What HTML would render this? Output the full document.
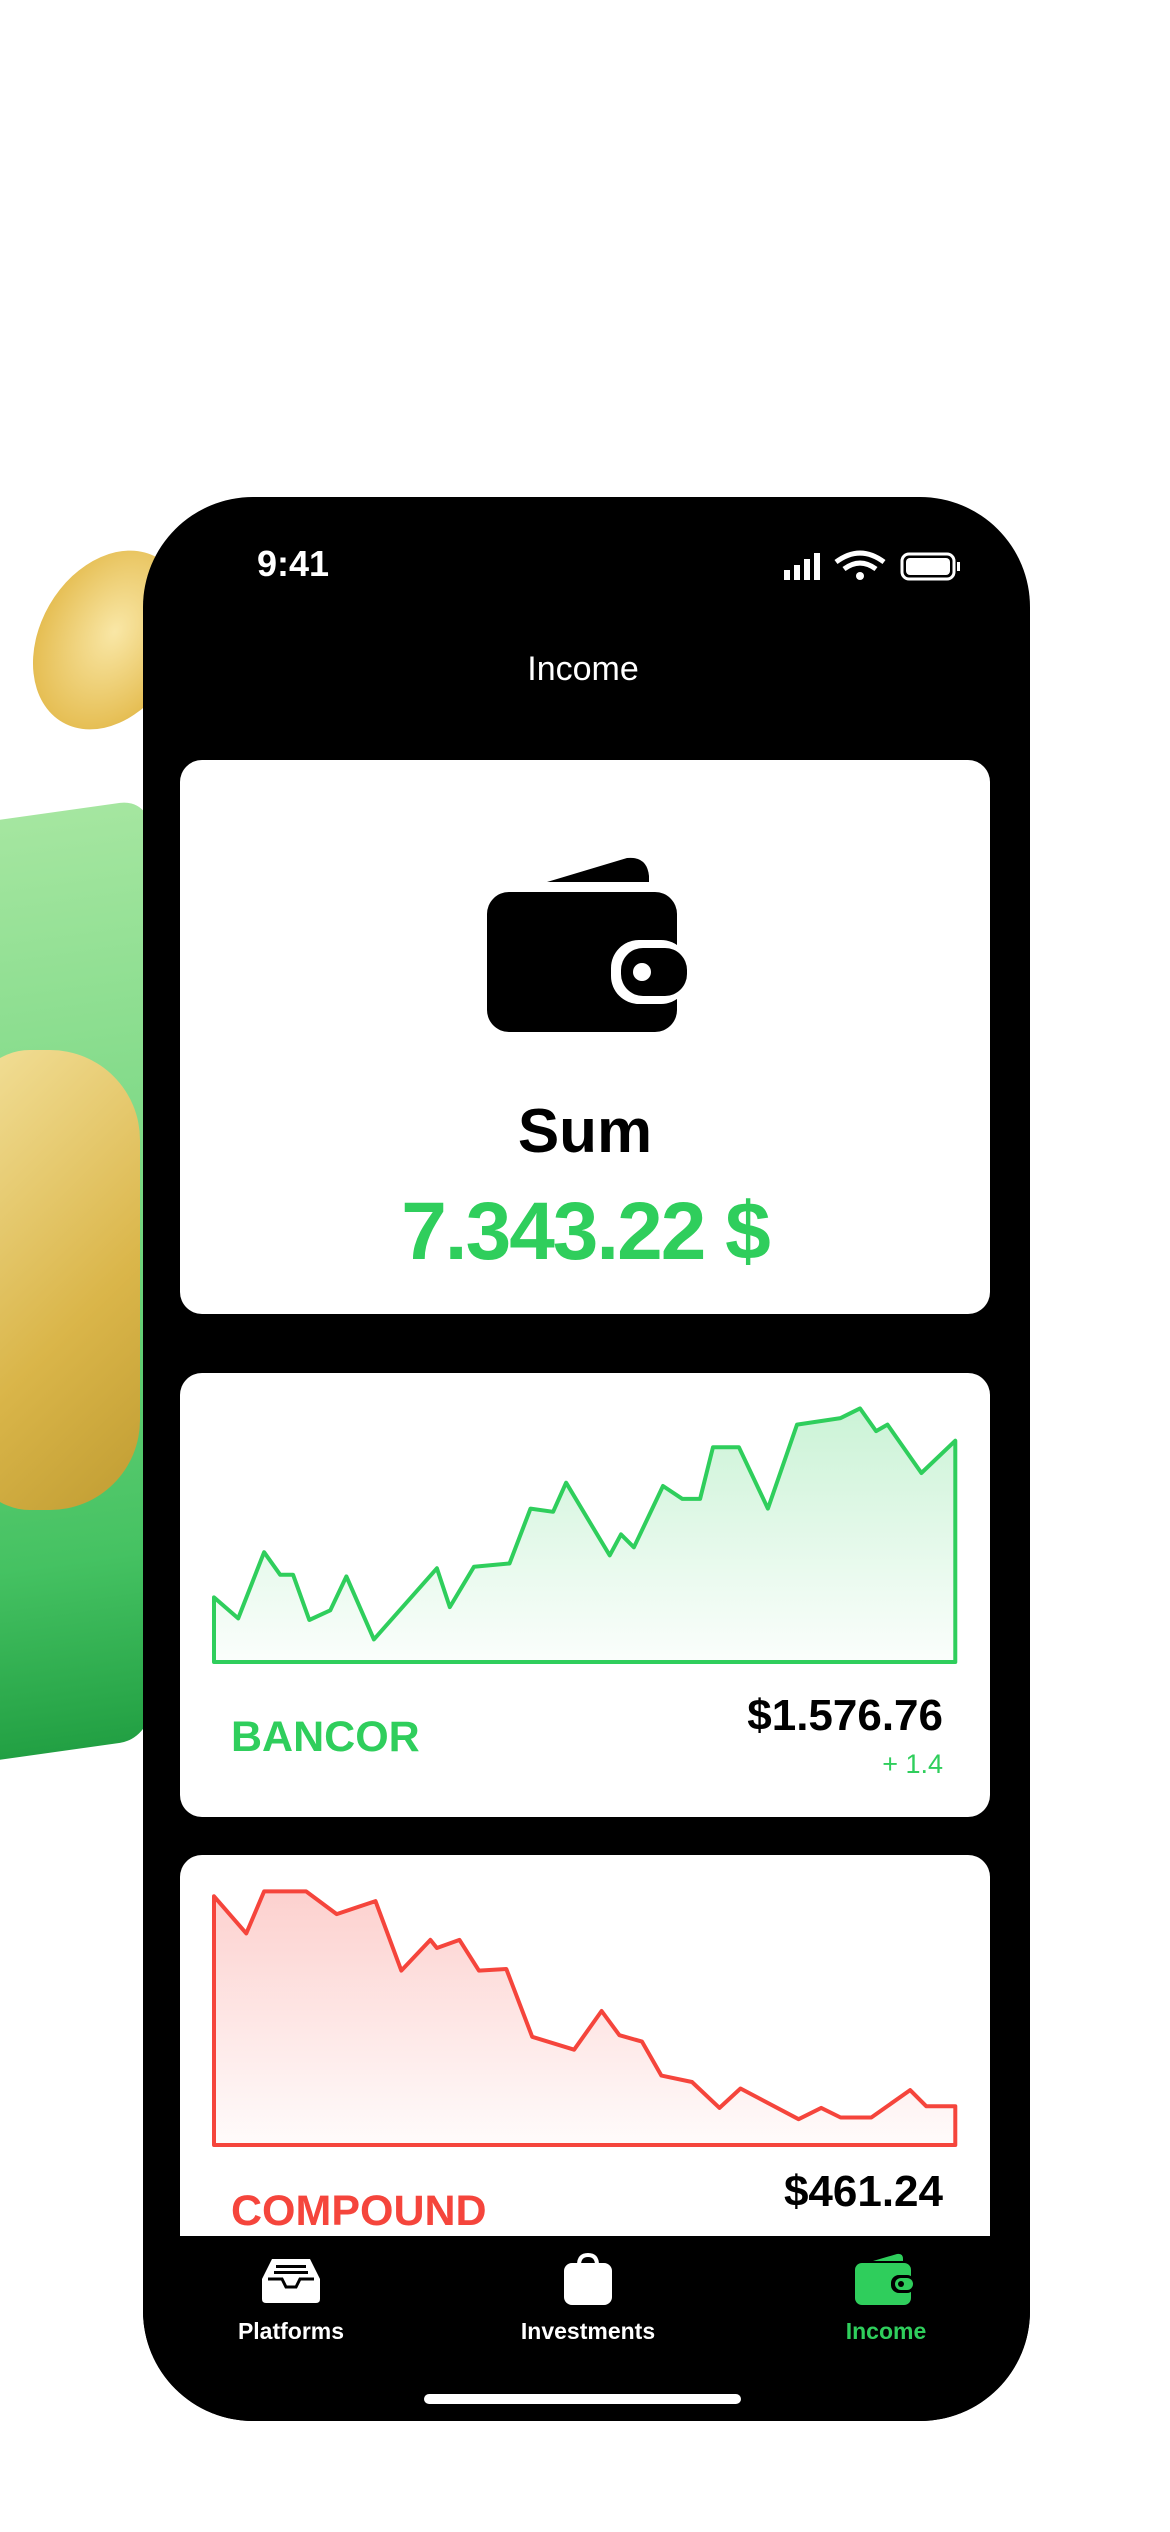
<!DOCTYPE html>
<html><head><meta charset="utf-8"><style>
body{margin:0;width:1170px;height:2532px;background:#fff;position:relative;overflow:hidden;font-family:"Liberation Sans",sans-serif}
.abs{position:absolute}
.card{position:absolute;left:180px;width:810px;background:#fff;border-radius:22px;overflow:hidden}
</style></head><body>
<div class="abs" style="left:-40px;top:812px;width:190px;height:940px;background:linear-gradient(180deg,#a5e6a0 0%,#7ad884 40%,#45c262 80%,#22a043 100%);border-radius:30px;transform:skewY(-8deg)"></div>
<div class="abs" style="left:-30px;top:1050px;width:170px;height:460px;background:linear-gradient(135deg,#f8e09a,#e0b447 60%,#c69a2f);border-radius:60px 90px 90px 60px;opacity:.95"></div>
<div class="abs" style="left:40px;top:545px;width:140px;height:190px;background:radial-gradient(ellipse at 50% 45%,#f9e7a6,#e6bf55 70%,#c99b2c);border-radius:50%;transform:rotate(30deg)"></div>

<div class="abs" style="left:143px;top:497px;width:887px;height:1924px;background:#000;border-radius:110px;overflow:hidden">
</div>
<div class="abs" style="left:233px;top:543px;width:120px;text-align:center;color:#fff;font-size:36px;font-weight:600">9:41</div>
<svg class="abs" style="left:780px;top:548px" width="185" height="36">
<rect x="4" y="22" width="6" height="10" fill="#fff"/><rect x="14" y="17" width="6" height="15" fill="#fff"/><rect x="24" y="11" width="6" height="21" fill="#fff"/><rect x="34" y="5" width="6" height="27" fill="#fff"/>
<path d="M56 14 Q80 -4 104 14" stroke="#fff" stroke-width="5" fill="none"/><path d="M64 21 Q80 9 96 21" stroke="#fff" stroke-width="5" fill="none"/><circle cx="80" cy="28" r="4" fill="#fff"/>
<rect x="122" y="6" width="52" height="25" rx="7" fill="none" stroke="#fff" stroke-width="3"/><rect x="126" y="10" width="44" height="17" rx="4" fill="#fff"/><rect x="177" y="14" width="3" height="9" fill="#fff"/>
</svg>
<div class="abs" style="left:143px;width:880px;top:650px;text-align:center;color:#fff;font-size:34px;font-weight:500">Income</div>

<div class="card" style="top:760px;height:554px">
<svg class="abs" style="left:307px;top:96px" width="200" height="176">
<path d="M60 26 L140 2 Q160 0 162 20 L162 26Z" fill="#000"/>
<rect x="0" y="36" width="190" height="140" rx="22" fill="#000"/>
<rect x="124" y="84" width="78" height="64" rx="28" fill="#fff"/>
<rect x="134" y="92" width="66" height="48" rx="22" fill="#000"/>
<circle cx="155" cy="116" r="9" fill="#fff"/>
</svg>
<div class="abs" style="left:0;width:810px;top:336px;text-align:center;font-size:62px;font-weight:700;color:#000">Sum</div>
<div class="abs" style="left:0;width:810px;top:425px;text-align:center;font-size:82px;font-weight:700;color:#2fce5c;letter-spacing:-2px">7.343.22 $</div>
</div>

<div class="card" style="top:1373px;height:444px">
<svg class="abs" id="c1" style="left:0;top:0" width="810" height="310"></svg>
<div class="abs" style="left:51px;top:340px;font-size:43px;font-weight:700;color:#2fce5c">BANCOR</div>
<div class="abs" style="right:47px;top:318px;font-size:44px;font-weight:700;color:#000">$1.576.76</div>
<div class="abs" style="right:47px;top:376px;font-size:27px;color:#2fce5c">+ 1.4</div>
</div>

<div class="card" style="top:1855px;height:500px">
<svg class="abs" id="c2" style="left:0;top:0" width="810" height="310"></svg>
<div class="abs" style="left:51px;top:332px;font-size:43px;font-weight:700;color:#f5453c">COMPOUND</div>
<div class="abs" style="right:47px;top:312px;font-size:44px;font-weight:700;color:#000">$461.24</div>
</div>

<div class="abs" style="left:143px;top:2236px;width:887px;height:185px;background:#000;border-radius:0 0 110px 110px"></div>
<svg class="abs" style="left:260px;top:2257px" width="62" height="48">
<path d="M12 2 H50 L60 22 V42 Q60 46 56 46 H6 Q2 46 2 42 V22Z" fill="#fff"/><path d="M8 22 H22 L26 30 H36 L40 22 H54" stroke="#000" stroke-width="3" fill="none"/><rect x="16" y="8" width="30" height="3" fill="#000"/><rect x="14" y="14" width="34" height="3" fill="#000"/>
</svg>
<div class="abs" style="left:191px;width:200px;top:2318px;text-align:center;color:#fff;font-size:23px;font-weight:600">Platforms</div>
<svg class="abs" style="left:563px;top:2253px" width="50" height="54">
<path d="M16 12 Q16 2 25 2 Q34 2 34 12" stroke="#fff" stroke-width="4" fill="none"/><rect x="1" y="10" width="48" height="42" rx="8" fill="#fff"/>
</svg>
<div class="abs" style="left:488px;width:200px;top:2318px;text-align:center;color:#fff;font-size:23px;font-weight:600">Investments</div>
<svg class="abs" style="left:853px;top:2253px" width="64" height="54">
<path d="M20 8 L44 1 Q50 0 50 6 V8Z" fill="#2fce5c"/><rect x="2" y="10" width="56" height="42" rx="7" fill="#2fce5c"/><rect x="38" y="22" width="24" height="18" rx="8" fill="#000"/><rect x="42" y="25" width="18" height="12" rx="6" fill="#2fce5c"/><circle cx="48" cy="31" r="3" fill="#000"/>
</svg>
<div class="abs" style="left:786px;width:200px;top:2318px;text-align:center;color:#2fce5c;font-size:23px;font-weight:600">Income</div>
<div class="abs" style="left:424px;top:2394px;width:317px;height:10px;background:#fff;border-radius:5px"></div>

<script>
const bancorTimes=[0,15,31,41,49,59,72,82,99,138,146,161,183,196,210,218,245,252,260,278,290,301,309,325,343,361,388,400,410,417,438,459];
const bancorValues=[40,27,68,54,54,26,32,53,14,58,34,59,61,95,93,111,66,79,71,109,101,101,133,133,95,147,151,157,143,147,117,137];
const compoundTimes=[0,20,31,57,76,100,116,134,138,152,164,181,197,223,240,251,265,277,296,313,326,362,376,388,407,431,441,459];
const compoundValues=[154,131,157,157,143,151,108,127,122,127,108,109,67,59,83,68,64,43,39,23,35,16,23,17,17,34,24,24];
const S=1.615;
function xs(t){return 34+t*S;}
function ys(v,base){return base-v*S;}
function draw(id,times,vals,color,grad){
  const svg=document.getElementById(id);const ns="http://www.w3.org/2000/svg";
  const base=id==='c1'?289:290;
  const defs=document.createElementNS(ns,'defs');
  defs.innerHTML='<linearGradient id="g'+id+'" x1="0" y1="0" x2="0" y2="1"><stop offset="0" stop-color="'+grad+'" stop-opacity="0.25"/><stop offset="1" stop-color="'+grad+'" stop-opacity="0.02"/></linearGradient>';
  svg.appendChild(defs);
  let pts=times.map((t,i)=>xs(t).toFixed(1)+','+ys(vals[i],base).toFixed(1));
  const x0=xs(times[0]),x1=xs(times[times.length-1]);
  const area=document.createElementNS(ns,'polygon');
  area.setAttribute('points',x0+','+base+' '+pts.join(' ')+' '+x1+','+base);
  area.setAttribute('fill','url(#g'+id+')');area.setAttribute('stroke',color);area.setAttribute('stroke-width','4');area.setAttribute('stroke-linejoin','round');
  
  
  svg.appendChild(area);
}
draw('c1',bancorTimes,bancorValues,'#2fce5c','#2fce5c');
draw('c2',compoundTimes,compoundValues,'#f5453c','#f5453c');
</script>
</body></html>
